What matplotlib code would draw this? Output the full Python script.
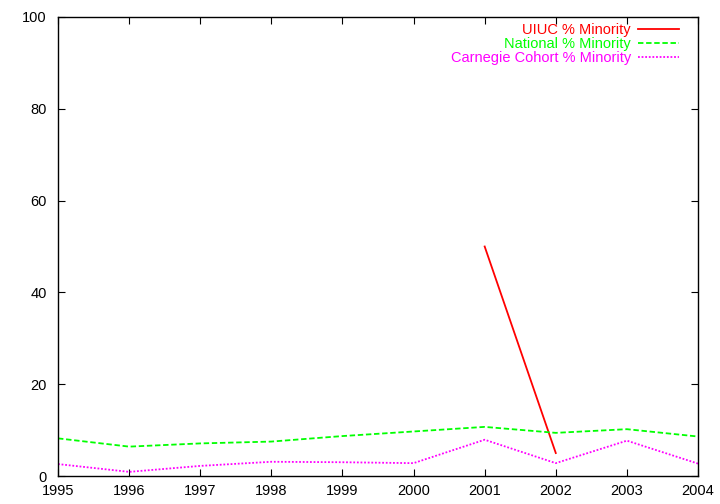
import matplotlib
matplotlib.use("Agg")
import matplotlib.pyplot as plt

plt.rcParams['font.family'] = ['Liberation Sans', 'DejaVu Sans']

# Data
years = [1995, 1996, 1997, 1998, 1999, 2000, 2001, 2002, 2003, 2004]
uiuc_years = [2001, 2002]
uiuc_minority = [50.0, 5.0]
national_minority = [8.2, 6.4, 7.1, 7.5, 8.7, 9.7, 10.7, 9.4, 10.2, 8.6]
carnegie_minority = [2.6, 0.9, 2.2, 3.1, 3.0, 2.8, 7.9, 2.8, 7.7, 2.7]

fig = plt.figure(figsize=(7.2, 5.04), dpi=100)
ax = fig.add_axes([58 / 720, 28 / 504, 640 / 720, 459 / 504])

ax.plot(uiuc_years, uiuc_minority, color='#ff0000', linewidth=1.3, label='UIUC % Minority')
ax.plot(years, national_minority, color='#00ff00', linewidth=1.3, linestyle=(0, (3, 1.5)),
        label='National % Minority')
ax.plot(years, carnegie_minority, color='#ff00ff', linewidth=1.3, linestyle=(0, (1, 1)),
        label='Carnegie Cohort % Minority')

ax.set_xlim(1995, 2004)
ax.set_ylim(0, 100)
ax.set_xticks(years)
ax.set_yticks([0, 20, 40, 60, 80, 100])
ax.tick_params(direction='in', top=True, right=True, labelsize=10.5, length=5)
ax.tick_params(axis='x', pad=6)
ax.tick_params(axis='y', pad=8)
for s in ax.spines.values():
    s.set_linewidth(1)

leg = ax.legend(loc='upper right', frameon=False, markerfirst=False, fontsize=10.5,
                handlelength=2.8, handletextpad=0.5, labelspacing=0.0,
                borderaxespad=0.0, borderpad=0.0, bbox_to_anchor=(1 - 19 / 640, 1 - 6 / 459))
for text, line in zip(leg.get_texts(), leg.get_lines()):
    text.set_color(line.get_color())

fig.savefig('out.png', dpi=100)
